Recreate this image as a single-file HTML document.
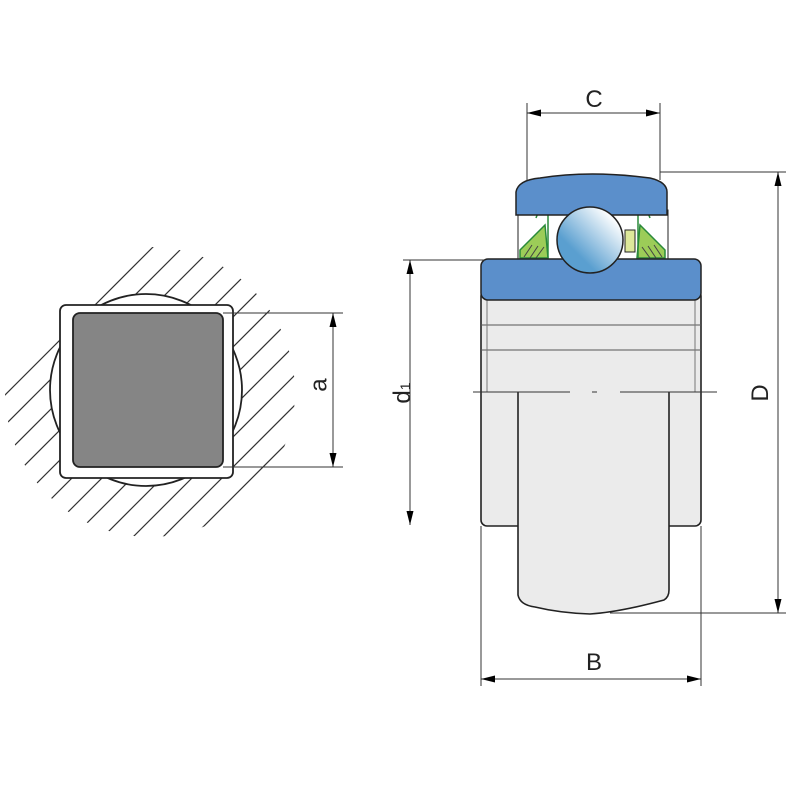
<!DOCTYPE html>
<html><head><style>body{margin:0;background:#fff}svg{display:block}</style></head><body>
<svg width="800" height="800" viewBox="0 0 800 800" xmlns="http://www.w3.org/2000/svg" font-family="Liberation Sans, sans-serif">
<defs>
<clipPath id="hc"><circle cx="150" cy="392" r="145"/></clipPath>
<linearGradient id="bg" x1="0" y1="1" x2="1" y2="0"><stop offset="0.3" stop-color="#5a9fd0"/><stop offset="0.85" stop-color="#ffffff"/></linearGradient>
<marker id="ar" viewBox="0 0 14 10" refX="14" refY="5" markerWidth="14" markerHeight="10" orient="auto-start-reverse" markerUnits="userSpaceOnUse"><path d="M0,1.5 L14,5 L0,8.5z" fill="#000"/></marker>
</defs>
<g clip-path="url(#hc)" stroke="#333" stroke-width="1.2">
<path d="M0,250 L-400,650 M0,280 L-400,680 M0,310 L-400,710 M0,340 L-400,740 M0,370 L-400,770"/>
<path d="M400,0 L-400,800 M430,0 L-370,800 M460,0 L-340,800 M490,0 L-310,800 M520,0 L-280,800 M550,0 L-250,800 M580,0 L-220,800 M610,0 L-190,800 M640,0 L-160,800 M670,0 L-130,800 M700,0 L-100,800 M730,0 L-70,800 M760,0 L-40,800 M790,0 L-10,800 M820,0 L20,800 M850,0 L50,800"/>
</g>
<circle cx="146" cy="390" r="96" fill="#fff" stroke="#222" stroke-width="1.8"/>
<rect x="60" y="305" width="173" height="173" rx="6" fill="#fff" stroke="#222" stroke-width="1.8"/>
<rect x="73" y="313" width="150" height="154" rx="7" fill="#858585" stroke="#222" stroke-width="1.8"/>
<g stroke="#333" stroke-width="1">
<line x1="223" y1="313" x2="343" y2="313"/><line x1="223" y1="467" x2="343" y2="467"/>
<line x1="333" y1="313" x2="333" y2="467" marker-start="url(#ar)" marker-end="url(#ar)"/>
</g>
<text x="320" y="385" font-size="24" text-anchor="middle" transform="rotate(-90 320 385)" dominant-baseline="middle" fill="#222">a</text>
<rect x="481" y="290" width="220" height="236" rx="6" fill="#ebebeb" stroke="#222" stroke-width="1.6"/>
<line x1="481" y1="325" x2="701" y2="325" stroke="#555"/>
<line x1="481" y1="350" x2="701" y2="350" stroke="#555"/>
<line x1="487" y1="300" x2="487" y2="392" stroke="#777"/>
<line x1="695" y1="300" x2="695" y2="392" stroke="#777"/>
<path d="M518,392 L518,595 Q520,605 535,607 Q560,613 590,614 Q620,612 664,600 Q669,597 669,590 L669,392" fill="#ebebeb" stroke="#222" stroke-width="1.6"/>
<path d="M473,392 L570,392 M592,392 L597,392 M620,392 L717,392" stroke="#333"/>
<rect x="518" y="210" width="150" height="52" fill="#fff" stroke="#222"/>
<path d="M520,250 L545,225 L548,258 L520,258z" fill="#9ccc58" stroke="#2a8a3a" stroke-width="1.5"/>
<path d="M665,250 L640,225 L637,258 L665,258z" fill="#9ccc58" stroke="#2a8a3a" stroke-width="1.5"/>
<path d="M524,257 L532,245 M530,258 L538,246 M536,258 L544,247 M662,257 L654,245 M656,258 L648,246 M650,258 L642,247" stroke="#444" stroke-width="1"/>
<path d="M536,218 Q540,206 548,214 L548,258 M650,218 Q646,206 638,214 L638,258" fill="none" stroke="#2a8a3a" stroke-width="1.5"/>
<rect x="625" y="230" width="10" height="22" fill="#dde89a" stroke="#222"/>
<path d="M516,215 L516,192 Q518,180 540,178 Q590,170 650,178 Q667,182 667,192 L667,215z" fill="#5b8fcb" stroke="#222" stroke-width="1.5"/>
<rect x="481" y="259" width="220" height="41" rx="7" fill="#5b8fcb" stroke="#222" stroke-width="1.5"/>
<circle cx="590" cy="240" r="33" fill="url(#bg)" stroke="#222" stroke-width="1.5"/>
<g stroke="#333" stroke-width="1" fill="none">
<line x1="527" y1="103" x2="527" y2="180"/><line x1="660" y1="103" x2="660" y2="180"/>
<line x1="527" y1="113" x2="660" y2="113" marker-start="url(#ar)" marker-end="url(#ar)"/>
<line x1="660" y1="172" x2="786" y2="172"/><line x1="610" y1="613" x2="786" y2="613"/>
<line x1="778" y1="172" x2="778" y2="613" marker-start="url(#ar)" marker-end="url(#ar)"/>
<line x1="403" y1="260" x2="485" y2="260"/>
<line x1="410" y1="260" x2="410" y2="525" marker-start="url(#ar)" marker-end="url(#ar)"/>
<line x1="481" y1="526" x2="481" y2="686"/><line x1="701" y1="526" x2="701" y2="686"/>
<line x1="481" y1="679" x2="701" y2="679" marker-start="url(#ar)" marker-end="url(#ar)"/>
</g>
<text x="594" y="107" font-size="24" text-anchor="middle" fill="#222">C</text>
<text x="594" y="670" font-size="24" text-anchor="middle" fill="#222">B</text>
<text x="768" y="393" font-size="24" text-anchor="middle" transform="rotate(-90 768 393)" fill="#222">D</text>
<text x="410" y="393" font-size="24" text-anchor="middle" transform="rotate(-90 410 393)" fill="#222">d<tspan font-size="14">1</tspan></text>
</svg>
</body></html>
